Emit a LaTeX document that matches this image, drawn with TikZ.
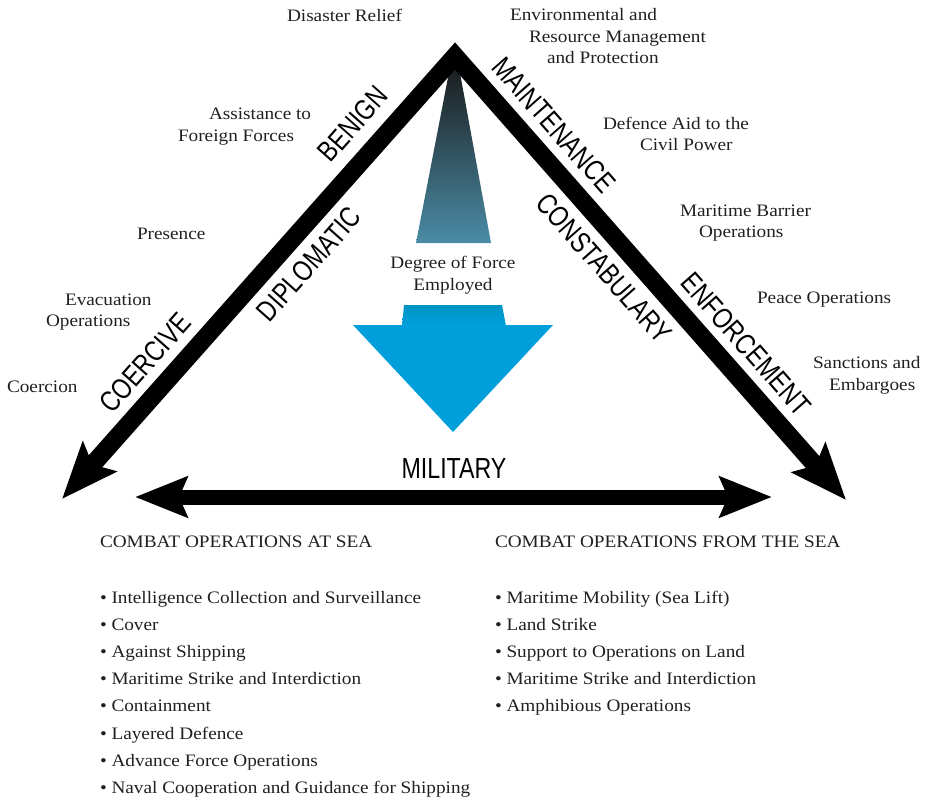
\documentclass[tikz,border=0pt]{standalone}
\usepackage{fontspec}
\setmainfont{Liberation Serif}[FakeStretch=1.1]
\newfontfamily\labfont{Liberation Sans}[FakeStretch=0.8]
\usetikzlibrary{arrows.meta}
\definecolor{txt}{HTML}{231F20}
\definecolor{forceblue}{HTML}{009FDC}
\definecolor{forceblue2}{HTML}{0094C4}
\definecolor{teal1}{HTML}{4A8CA6}
\definecolor{teal2}{HTML}{454D55}
\begin{document}
\begin{tikzpicture}[x=1pt,y=-1pt,
  txtnode/.style={inner sep=0pt, outer sep=0pt, anchor=base west, font=\fontsize{17.5}{21}\selectfont, text=txt},
  ctrnode/.style={txtnode, anchor=base},
  lab/.style={inner sep=0pt, outer sep=0pt, font=\labfont\fontsize{29}{30}\selectfont, text=black},
  diagarrow/.style={line width=18pt, line join=miter, miter limit=10,
     {Stealth[length=56pt,width=44pt,inset=10pt]}-{Stealth[length=56pt,width=44pt,inset=10pt]}},
  horarrow/.style={line width=15pt,
     {Stealth[length=52pt,width=40pt,inset=8pt]}-{Stealth[length=52pt,width=40pt,inset=8pt]}}
]
\useasboundingbox (0,0) rectangle (931,797);

% degree of force gradient wedge
\shade[top color=black!90, middle color=teal2, bottom color=teal1]
  (451,62) -- (458,62) -- (491,243) -- (416,243) -- cycle;

% blue arrow
\fill[forceblue] (402,325) -- (353,325) -- (453,432) -- (553,325) -- (506,325) -- cycle;
\shade[top color=forceblue2, bottom color=forceblue] (404,305) -- (502,305) -- (506,326) -- (402,326) -- cycle;

% triangle
\coordinate (apex) at (455,56);
\coordinate (tipL) at (62,499);
\coordinate (tipR) at (846,500);
\draw[diagarrow] (tipL) -- (apex) -- (tipR);

% military arrow
\coordinate (hl) at (135,497);
\coordinate (hr) at (772,497);
\draw[horarrow] (hl) -- (hr);

% side labels
\node[lab, rotate=48.4] (benign) at (353,124) {BENIGN};
\node[lab, rotate=48.4] (diplo) at (309,264) {DIPLOMATIC};
\node[lab, rotate=48.4] (coerc) at (145,363) {COERCIVE};
\node[lab, rotate=-48.6] (maint) at (554,125) {MAINTENANCE};
\node[lab, rotate=-48.6] (const) at (604,268) {CONSTABULARY};
\node[lab, rotate=-48.6] (enfor) at (746,344) {ENFORCEMENT};
\node[lab, anchor=base] (mil) at (454,478) {MILITARY};

% centre text
\node[ctrnode] (dof1) at (453,268) {Degree of Force};
\node[ctrnode] (dof2) at (453,290) {Employed};

% tasks left
\node[txtnode] (dr) at (287,22) {Disaster Relief};
\node[txtnode] (aff1) at (209,120) {Assistance to};
\node[txtnode] (aff2) at (178,141) {Foreign Forces};
\node[txtnode] (pres) at (137,239) {Presence};
\node[txtnode] (evac1) at (65,305) {Evacuation};
\node[txtnode] (evac2) at (46,326) {Operations};
\node[txtnode] (coer) at (7,392) {Coercion};

% tasks right
\node[txtnode] (env1) at (510,21) {Environmental and};
\node[txtnode] (env2) at (529,43) {Resource Management};
\node[txtnode] (env3) at (547,64) {and Protection};
\node[txtnode] (daid1) at (603,129) {Defence Aid to the};
\node[txtnode] (daid2) at (640,150) {Civil Power};
\node[txtnode] (mbo1) at (680,216) {Maritime Barrier};
\node[txtnode] (mbo2) at (699,237) {Operations};
\node[txtnode] (peace) at (757,303) {Peace Operations};
\node[txtnode] (sanc1) at (813,368) {Sanctions and};
\node[txtnode] (sanc2) at (829,390) {Embargoes};

% combat lists
\node[txtnode] (hsea) at (100,547) {COMBAT OPERATIONS AT SEA};
\node[txtnode] (hfrom) at (495,547) {COMBAT OPERATIONS FROM THE SEA};

\foreach \t [count=\i from 0] in {Intelligence Collection and Surveillance, Cover, Against Shipping, Maritime Strike and Interdiction, Containment, Layered Defence, Advance Force Operations, Naval Cooperation and Guidance for Shipping}
  \node[txtnode] (ls\i) at (100,603+27.2*\i) {• \t};

\foreach \t [count=\i from 0] in {Maritime Mobility (Sea Lift), Land Strike, Support to Operations on Land, Maritime Strike and Interdiction, Amphibious Operations}
  \node[txtnode] (rs\i) at (495,603+27.2*\i) {• \t};
\end{tikzpicture}
\end{document}
